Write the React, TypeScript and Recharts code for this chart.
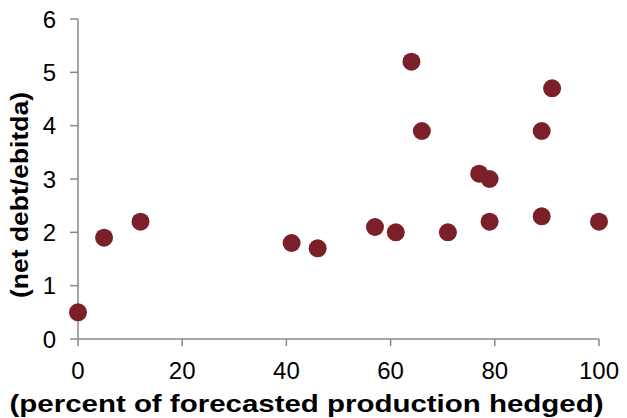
import React from "react";
import { ScatterChart, Scatter, XAxis, YAxis } from "recharts";

const hedgedPct = [0, 5, 12, 41, 46, 57, 61, 64, 66, 71, 77, 79, 79, 89, 89, 91, 100];
const netDebtEbitda = [0.5, 1.9, 2.2, 1.8, 1.7, 2.1, 2.0, 5.2, 3.9, 2.0, 3.1, 3.0, 2.2, 3.9, 2.3, 4.7, 2.2];
const xTicks = [0, 20, 40, 60, 80, 100];
const yTicks = [0, 1, 2, 3, 4, 5, 6];
const xTitle = "(percent of forecasted production hedged)";
const yTitle = "(net debt/ebitda)";

const data = hedgedPct.map((x, i) => ({ x, y: netDebtEbitda[i] }));

const FONT = "'Liberation Sans', Arial, sans-serif";
const AXIS = "#898989";
const DOT = "#7B2029";

const Dot = (props: any) => <circle cx={props.cx} cy={props.cy} r={9} fill={DOT} />;

export default function App() {
  return (
    <div style={{ position: "absolute", left: 0, top: 0, width: 627, height: 418, background: "#fff" }}>
      <ScatterChart width={627} height={418} margin={{ top: 19, right: 28, bottom: 0, left: 0 }}>
        <XAxis
          type="number"
          dataKey="x"
          domain={[0, 100]}
          ticks={xTicks}
          interval={0}
          height={79}
          axisLine={{ stroke: AXIS, strokeWidth: 1.5 }}
          tickLine={{ stroke: AXIS, strokeWidth: 1.5 }}
          tickSize={7}
          tickMargin={16}
          tick={{ fill: "#000", fontSize: 24, fontFamily: FONT }}
          label={{
            content: (p: any) => {
              const vb = p.viewBox;
              const cx = vb.x + vb.width / 2 - 32;
              return (
                <text
                  x={cx}
                  y={412}
                  textAnchor="middle"
                  fontFamily={FONT}
                  fontWeight="bold"
                  fontSize={24}
                  fill="#000"
                  textLength={594}
                  lengthAdjust="spacingAndGlyphs"
                >
                  {xTitle}
                </text>
              );
            },
          }}
        />
        <YAxis
          type="number"
          dataKey="y"
          domain={[0, 6]}
          ticks={yTicks}
          interval={0}
          width={78}
          axisLine={{ stroke: AXIS, strokeWidth: 1.5 }}
          tickLine={{ stroke: AXIS, strokeWidth: 1.5 }}
          tickSize={8}
          tickMargin={14}
          tick={{ fill: "#000", fontSize: 24, fontFamily: FONT }}
          label={{
            content: (p: any) => {
              const vb = p.viewBox;
              const cx = 28;
              const cy = vb.y + vb.height / 2 + 16;
              return (
                <text
                  x={cx}
                  y={cy}
                  transform={`rotate(-90 ${cx} ${cy})`}
                  textAnchor="middle"
                  fontFamily={FONT}
                  fontWeight="bold"
                  fontSize={24}
                  fill="#000"
                  textLength={206}
                  lengthAdjust="spacingAndGlyphs"
                >
                  {yTitle}
                </text>
              );
            },
          }}
        />
        <Scatter data={data} shape={Dot} isAnimationActive={false} />
      </ScatterChart>
    </div>
  );
}
